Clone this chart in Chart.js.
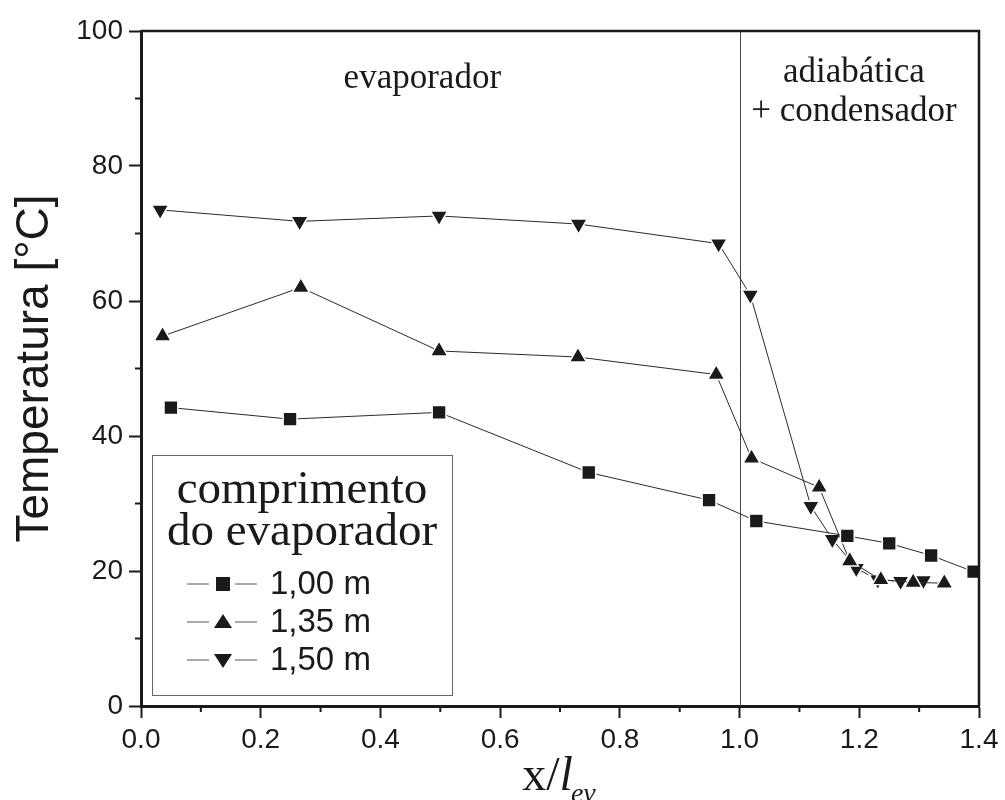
<!DOCTYPE html>
<html>
<head>
<meta charset="utf-8">
<title>Temperatura ao longo do tubo</title>
<script src="https://cdn.jsdelivr.net/npm/chart.js@4.4.1/dist/chart.umd.min.js"></script>
<style>
  html, body { margin: 0; padding: 0; background: #fff; }
  #wrap { width: 1005px; height: 800px; }
</style>
</head>
<body>
<div id="wrap"><canvas id="tempChart"></canvas></div>
<script>
// posição adimensional x/l_ev e temperatura [°C] para cada comprimento do evaporador
const pos100 = [0.050, 0.249, 0.498, 0.748, 0.949, 1.028, 1.180, 1.250, 1.320, 1.391];
const temp100 = [44.2, 42.5, 43.5, 34.6, 30.5, 27.4, 25.2, 24.1, 22.3, 19.9];

const pos135 = [0.036, 0.267, 0.498, 0.730, 0.961, 1.020, 1.133, 1.184, 1.236, 1.290, 1.342];
const temp135 = [54.8, 62.0, 52.6, 51.7, 49.1, 36.7, 32.4, 21.5, 18.7, 18.3, 18.2];

const pos150 = [0.032, 0.265, 0.498, 0.731, 0.965, 1.018, 1.119, 1.155, 1.195, 1.231, 1.269, 1.307];
const temp150 = [73.5, 71.8, 72.6, 71.4, 68.5, 60.9, 29.6, 24.7, 20.4, 18.7, 18.5, 18.6];

const seriesLabels = ["1,00 m", "1,35 m", "1,50 m"];
const legendTitle = ["comprimento", "do evaporador"];
const xTicks = [0, 0.2, 0.4, 0.6, 0.8, 1.0, 1.2, 1.4];
const yTicks = [0, 20, 40, 60, 80, 100];
const endEvaporator = 1.0;

const INK = "#1a1a1a";
const SANS = "'Liberation Sans', Arial, sans-serif";
const SERIF = "'Liberation Serif', 'Times New Roman', serif";

function toPoints(xs, ys) {
  return xs.map((x, i) => ({ x: x, y: ys[i] }));
}

function serie(label, xs, ys, style, rotation) {
  return {
    label: label,
    data: toPoints(xs, ys),
    borderColor: "#2a2a2a",
    borderWidth: 1,
    pointStyle: style,
    rotation: rotation,
    pointRadius: style === "rect" ? 9.8 : 10,
    pointHoverRadius: style === "rect" ? 9.8 : 10,
    pointBackgroundColor: INK,
    pointBorderColor: "#fff",
    pointBorderWidth: 1.5,
    tension: 0,
    clip: false,
  };
}

// moldura, ticks menores, linha x = 1, textos das regiões, legenda e título do eixo x
const decorations = {
  id: "decorations",
  beforeDatasetsDraw(chart) {
    const { ctx, chartArea: a, scales: { x } } = chart;
    const px = Math.round(x.getPixelForValue(endEvaporator)) + 0.5;
    ctx.save();
    ctx.strokeStyle = "#444";
    ctx.lineWidth = 1;
    ctx.beginPath();
    ctx.moveTo(px, a.top);
    ctx.lineTo(px, a.bottom);
    ctx.stroke();
    ctx.restore();
  },
  afterDraw(chart) {
    const { ctx, chartArea: a, scales: { x, y } } = chart;
    ctx.save();

    // bordas superior e direita
    ctx.strokeStyle = INK;
    ctx.lineWidth = 2.5;
    ctx.beginPath();
    ctx.moveTo(a.left, a.top);
    ctx.lineTo(a.right, a.top);
    ctx.lineTo(a.right, a.bottom);
    ctx.stroke();

    // ticks menores
    ctx.lineWidth = 2;
    ctx.beginPath();
    for (let i = 0; i < xTicks.length - 1; i++) {
      const p = x.getPixelForValue((xTicks[i] + xTicks[i + 1]) / 2);
      ctx.moveTo(p, a.bottom);
      ctx.lineTo(p, a.bottom + 6);
    }
    for (let i = 0; i < yTicks.length - 1; i++) {
      const p = y.getPixelForValue((yTicks[i] + yTicks[i + 1]) / 2);
      ctx.moveTo(a.left, p);
      ctx.lineTo(a.left - 6, p);
    }
    ctx.stroke();

    // regiões
    ctx.fillStyle = INK;
    ctx.font = "35px " + SERIF;
    ctx.textAlign = "center";
    ctx.textBaseline = "alphabetic";
    ctx.fillText("evaporador", x.getPixelForValue(0.47), y.getPixelForValue(91.6));
    ctx.fillText("adiabática", x.getPixelForValue(1.191), y.getPixelForValue(92.5));
    ctx.fillText("+ condensador", x.getPixelForValue(1.191), y.getPixelForValue(86.6));

    // legenda
    const box = { left: a.left + 11, top: 455, width: 300, height: 240 };
    ctx.fillStyle = "#fff";
    ctx.fillRect(box.left, box.top, box.width, box.height);
    ctx.strokeStyle = "#666";
    ctx.lineWidth = 1;
    ctx.strokeRect(box.left + 0.5, box.top + 0.5, box.width, box.height);

    const cx = box.left + box.width / 2;
    ctx.fillStyle = INK;
    ctx.font = "47px " + SERIF;
    ctx.textAlign = "center";
    ctx.fillText(legendTitle[0], cx, box.top + 48);
    ctx.fillText(legendTitle[1], cx, box.top + 90);

    const styles = ["rect", "triangle", "triangle-down"];
    const x0 = box.left + 35;
    chart.data.datasets.forEach((ds, i) => {
      const ry = box.top + 129 + i * 38;
      ctx.strokeStyle = "#555";
      ctx.lineWidth = 1;
      ctx.beginPath();
      ctx.moveTo(x0, ry);
      ctx.lineTo(x0 + 22, ry);
      ctx.moveTo(x0 + 48, ry);
      ctx.lineTo(x0 + 70, ry);
      ctx.stroke();

      const mx = x0 + 36;
      ctx.fillStyle = INK;
      ctx.beginPath();
      if (styles[i] === "rect") {
        ctx.rect(mx - 7, ry - 7, 14, 14);
      } else if (styles[i] === "triangle") {
        ctx.moveTo(mx, ry - 8);
        ctx.lineTo(mx + 9, ry + 6);
        ctx.lineTo(mx - 9, ry + 6);
      } else {
        ctx.moveTo(mx, ry + 8);
        ctx.lineTo(mx + 9, ry - 6);
        ctx.lineTo(mx - 9, ry - 6);
      }
      ctx.closePath();
      ctx.fill();

      ctx.font = "33px " + SANS;
      ctx.textAlign = "left";
      ctx.textBaseline = "middle";
      ctx.fillText(ds.label, x0 + 83, ry + 1);
      ctx.textBaseline = "alphabetic";
    });

    // título do eixo x: x/l_ev
    const base = 790;
    ctx.fillStyle = INK;
    ctx.textAlign = "left";
    const romanFont = "48px " + SERIF;
    const italicFont = "italic 48px " + SERIF;
    const subFont = "italic 28px " + SERIF;
    ctx.font = romanFont;
    const w1 = ctx.measureText("x/").width;
    ctx.font = italicFont;
    const w2 = ctx.measureText("l").width;
    ctx.font = subFont;
    const w3 = ctx.measureText("ev").width;
    let tx = (a.left + a.right) / 2 - (w1 + w2 + w3) / 2;
    ctx.font = romanFont;
    ctx.fillText("x/", tx, base);
    tx += w1;
    ctx.font = italicFont;
    ctx.fillText("l", tx, base);
    tx += w2;
    ctx.font = subFont;
    ctx.fillText("ev", tx - 2, base + 12);

    ctx.restore();
  },
};

new Chart(document.getElementById("tempChart"), {
  type: "line",
  data: {
    datasets: [
      serie(seriesLabels[0], pos100, temp100, "rect", 0),
      serie(seriesLabels[1], pos135, temp135, "triangle", 0),
      serie(seriesLabels[2], pos150, temp150, "triangle", 180),
    ],
  },
  options: {
    responsive: true,
    maintainAspectRatio: false,
    animation: false,
    events: [],
    layout: { padding: { top: 31, right: 26, left: 0, bottom: 0 } },
    plugins: {
      legend: { display: false },
      tooltip: { enabled: false },
    },
    scales: {
      x: {
        type: "linear",
        min: xTicks[0],
        max: xTicks[xTicks.length - 1],
        afterBuildTicks(scale) {
          scale.ticks = xTicks.map((v) => ({ value: v }));
        },
        afterFit(scale) {
          scale.height = 94;
        },
        ticks: {
          callback: (v) => Number(v).toFixed(1),
          font: { family: SANS, size: 28 },
          color: INK,
          padding: 5,
          maxRotation: 0,
          autoSkip: false,
        },
        grid: {
          drawOnChartArea: false,
          tickLength: 12,
          tickWidth: 2,
          tickColor: INK,
        },
        border: { color: INK, width: 3 },
      },
      y: {
        type: "linear",
        min: yTicks[0],
        max: yTicks[yTicks.length - 1],
        afterBuildTicks(scale) {
          scale.ticks = yTicks.map((v) => ({ value: v }));
        },
        afterFit(scale) {
          scale.width = 141;
        },
        ticks: {
          font: { family: SANS, size: 28 },
          color: INK,
          padding: 6,
          autoSkip: false,
        },
        grid: {
          drawOnChartArea: false,
          tickLength: 12,
          tickWidth: 2,
          tickColor: INK,
        },
        border: { color: INK, width: 3 },
        title: {
          display: true,
          text: "Temperatura [°C]",
          font: { family: SANS, size: 46 },
          color: INK,
          padding: { top: 8, bottom: 0 },
        },
      },
    },
  },
  plugins: [decorations],
});
</script>
</body>
</html>
